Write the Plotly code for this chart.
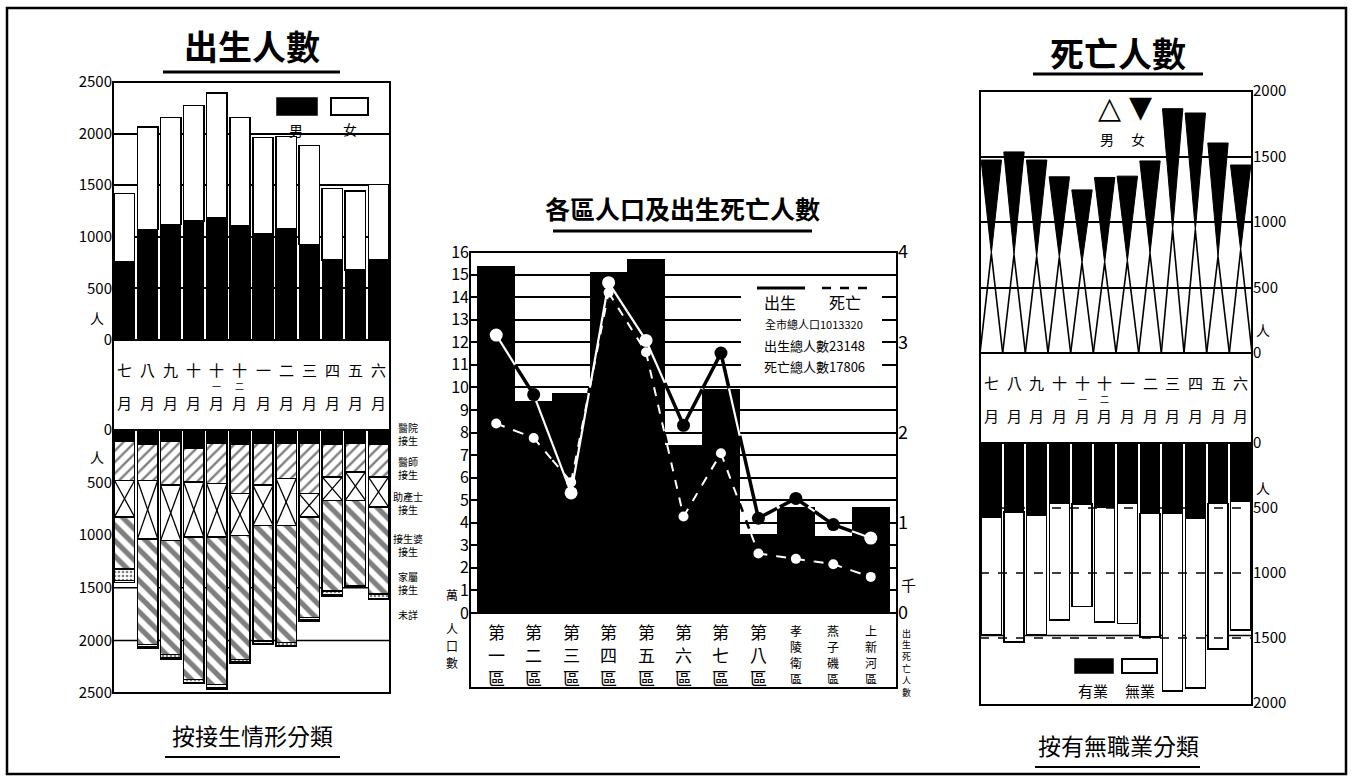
import plotly.graph_objects as go

W, H = 1353, 784
FONT = "Noto Sans CJK TC"

# ---- data ----
months_top = ["七", "八", "九", "十", "十一", "十二", "一", "二", "三", "四", "五", "六"]

# 出生人數 (by sex)
births_male = [758, 1071, 1119, 1152, 1184, 1103, 1032, 1077, 926, 774, 677, 774]
births_female = [661, 994, 1036, 1122, 1210, 1052, 929, 897, 958, 694, 768, 732]

# 按接生情形分類
deliv_hospital = [110, 140, 110, 170, 125, 140, 125, 125, 125, 140, 125, 140]
deliv_doctor = [368, 338, 415, 324, 385, 465, 400, 337, 480, 306, 273, 306]
deliv_midwife = [350, 557, 526, 525, 509, 398, 383, 446, 223, 223, 271, 286]
deliv_oldmidwife = [494, 1003, 1083, 1354, 1401, 1179, 1098, 1114, 955, 860, 812, 829]
deliv_family = [110, 25, 35, 25, 30, 25, 25, 25, 25, 40, 12, 40]
deliv_unknown = [17, 7, 13, 6, 12, 6, 7, 7, 7, 7, 4, 7]
deliv_labels = ["醫院<br>接生", "醫師<br>接生", "助產士<br>接生", "接生婆<br>接生", "家屬<br>接生", "未詳"]

# 各區人口及出生死亡人數
districts = ["第一區", "第二區", "第三區", "第四區", "第五區", "第六區", "第七區", "第八區",
             "孝陵衛區", "燕子磯區", "上新河區"]
district_pop = [15.4, 9.4, 9.75, 15.1, 15.7, 7.45, 9.95, 3.5, 4.7, 3.4, 4.7]        # 萬人
district_births = [3.08, 2.42, 1.33, 3.66, 3.02, 2.08, 2.88, 1.05, 1.27, 0.98, 0.83]  # 千人
district_deaths = [2.10, 1.94, 1.45, 3.55, 2.89, 1.07, 1.77, 0.66, 0.60, 0.54, 0.40]  # 千人
summary_lines = ["全市總人口1013320", "出生總人數23148", "死亡總人數17806"]

# 死亡人數 (by sex)
deaths_male = [760, 750, 735, 730, 690, 690, 700, 760, 940, 940, 735, 785]
deaths_female = [713, 785, 738, 615, 555, 650, 650, 706, 925, 892, 868, 650]

# 按有無職業分類
deaths_employed = [568, 529, 555, 464, 470, 490, 464, 542, 542, 581, 464, 451]
deaths_unemployed = [911, 1002, 924, 898, 788, 885, 924, 950, 1367, 1302, 1119, 989]


def fx(p):
    return p / W


def fy(p):
    return 1 - p / H


idx = list(range(len(months_top)))
didx = list(range(len(districts)))
fig = go.Figure()

# ---------- left top: births by sex ----------
BW = 0.88
fig.add_bar(x=idx, y=births_male, width=BW, xaxis="x", yaxis="y",
            marker=dict(color="black", line=dict(color="black", width=1)))
fig.add_bar(x=idx, y=births_female, width=BW, xaxis="x", yaxis="y",
            marker=dict(color="white", line=dict(color="black", width=1.5)))

# ---------- left bottom: delivery ----------
def pat(shape, size, sol):
    return dict(shape=shape, size=size, solidity=sol, fgcolor="black", bgcolor="white")


seg_styles = [
    (deliv_hospital, dict(color="black", line=dict(color="black", width=1.5))),
    (deliv_doctor, dict(color="white", pattern=pat("/", 8, 0.3), line=dict(color="black", width=1.5))),
    (deliv_midwife, dict(color="white", line=dict(color="black", width=1.5))),
    (deliv_oldmidwife, dict(color="white", pattern=pat("\\", 11, 0.48), line=dict(color="black", width=1.5))),
    (deliv_family, dict(color="white", pattern=pat(".", 4, 0.35), line=dict(color="black", width=1.5))),
    (deliv_unknown, dict(color="white", line=dict(color="black", width=1.5))),
]
for vals, mk in seg_styles:
    fig.add_bar(x=idx, y=vals, width=BW, xaxis="x2", yaxis="y2", marker=mk)

# big X inside the midwife segment
xs, ys = [], []
for i in idx:
    top = deliv_hospital[i] + deliv_doctor[i]
    bot = top + deliv_midwife[i]
    xs += [i - BW / 2, i + BW / 2, None, i - BW / 2, i + BW / 2, None]
    ys += [top, bot, None, bot, top, None]
fig.add_scatter(x=xs, y=ys, mode="lines", line=dict(color="black", width=1.3),
                xaxis="x2", yaxis="y2", hoverinfo="skip")

# ---------- centre: districts ----------
fig.add_bar(x=didx, y=district_pop, width=1.0, xaxis="x3", yaxis="y3",
            marker=dict(color="black", line=dict(width=0)))

ratio = 4 / 16  # right axis units per left axis unit
bar_tops = [p * ratio for p in district_pop]


def split_segments(vals):
    # white where the line runs over a black bar, black elsewhere
    inside_x, inside_y, out_x, out_y = [], [], [], []
    for k in range(len(vals) - 1):
        x0, y0, x1, y1 = k, vals[k], k + 1, vals[k + 1]

        def yat(x):
            return y0 + (y1 - y0) * (x - x0) / (x1 - x0)

        mid = (x0 + x1) / 2
        for a, b, s in ((x0, mid, k), (mid, x1, k + 1)):
            h = bar_tops[s]
            cuts = [a, b]
            ya, yb = yat(a), yat(b)
            if (ya - h) * (yb - h) < 0:
                c = a + (h - ya) / (yb - ya) * (b - a)
                cuts = [a, c, b]
            for p, q in zip(cuts[:-1], cuts[1:]):
                ym = yat((p + q) / 2)
                if ym < h:
                    inside_x += [p, q, None]
                    inside_y += [yat(p), yat(q), None]
                else:
                    out_x += [p, q, None]
                    out_y += [yat(p), yat(q), None]
    return inside_x, inside_y, out_x, out_y


for vals, dash, wb, ww, msize in ((district_births, "solid", 3.5, 2.2, 13),
                                  (district_deaths, "dash", 2.6, 2.0, 10)):
    ix, iy, ox, oy = split_segments(vals)
    fig.add_scatter(x=ox, y=oy, mode="lines", line=dict(color="black", width=wb, dash=dash),
                    xaxis="x3", yaxis="y4", hoverinfo="skip")
    fig.add_scatter(x=ix, y=iy, mode="lines", line=dict(color="white", width=ww, dash=dash),
                    xaxis="x3", yaxis="y4", hoverinfo="skip")
    cols = ["white" if v < bar_tops[i] else "black" for i, v in enumerate(vals)]
    fig.add_scatter(x=didx, y=vals, mode="markers", xaxis="x3", yaxis="y4",
                    marker=dict(size=msize, color=cols, line=dict(width=0)))

# ---------- right top: deaths by sex (triangles) ----------
mx, my, fxs, fys = [], [], [], []
for i in idx:
    m = deaths_male[i]
    t = m + deaths_female[i]
    mx += [i - 0.5, i, i + 0.5, None]
    my += [0, m, 0, None]
    fxs += [i - 0.45, i + 0.45, i, i - 0.45, None]
    fys += [t, t, m, t, None]
fig.add_scatter(x=fxs, y=fys, mode="lines", fill="toself", fillcolor="black",
                line=dict(color="black", width=1), xaxis="x5", yaxis="y5", hoverinfo="skip")
fig.add_scatter(x=mx, y=my, mode="lines", line=dict(color="black", width=1.6),
                xaxis="x5", yaxis="y5", hoverinfo="skip")

# ---------- right bottom: occupation ----------
fig.add_bar(x=idx, y=deaths_employed, width=BW, xaxis="x6", yaxis="y6",
            marker=dict(color="black", line=dict(color="black", width=1)))
fig.add_bar(x=idx, y=deaths_unemployed, width=BW, xaxis="x6", yaxis="y6",
            marker=dict(color="white", line=dict(color="black", width=1.6)))

# ---------- axes ----------
tick_font = dict(family=FONT, size=15, color="black")
hidden_x = dict(visible=False, range=[-0.5, 11.5], fixedrange=True)
grid = dict(showgrid=True, gridcolor="black", gridwidth=1.5, zeroline=False, ticks="",
            tickfont=tick_font, showline=False)

fig.update_layout(
    width=W, height=H, margin=dict(l=0, r=0, t=0, b=0, pad=0, autoexpand=False),
    paper_bgcolor="white", plot_bgcolor="white", showlegend=False, barmode="stack",
    font=dict(family=FONT, color="black"),
    xaxis=dict(hidden_x, domain=[fx(113), fx(390)], anchor="y"),
    yaxis=dict(grid, domain=[fy(340), fy(82)], range=[0, 2500], anchor="x",
               tickvals=[0, 500, 1000, 1500, 2000, 2500]),
    xaxis2=dict(hidden_x, domain=[fx(113), fx(390)], anchor="y2"),
    yaxis2=dict(grid, showgrid=False, domain=[fy(693), fy(430)], range=[2500, 0], anchor="x2",
                tickvals=[0, 500, 1000, 1500, 2000, 2500]),
    xaxis3=dict(visible=False, domain=[fx(470), fx(897)], range=[-0.7, 10.7], anchor="y3"),
    yaxis3=dict(grid, domain=[fy(613), fy(252)], range=[0, 16], anchor="x3",
                tickvals=list(range(17)), ticks="inside", ticklen=7, tickwidth=1.5,
                tickcolor="black", tickfont=dict(family=FONT, size=16, color="black")),
    yaxis4=dict(domain=[fy(613), fy(252)], range=[0, 4], overlaying="y3", side="right",
                anchor="x3", showgrid=False, zeroline=False, tickvals=[0, 1, 2, 3, 4],
                ticks="inside", ticklen=10, tickwidth=1.5, tickcolor="black",
                tickfont=dict(family=FONT, size=18, color="black"),
                minor=dict(dtick=0.25, ticks="inside", ticklen=9, tickwidth=1.5,
                           tickcolor="black", showgrid=False)),
    xaxis5=dict(hidden_x, domain=[fx(980), fx(1252)], anchor="y5"),
    yaxis5=dict(grid, domain=[fy(353), fy(91)], range=[0, 2000], side="right", anchor="x5",
                tickvals=[0, 500, 1000, 1500, 2000]),
    xaxis6=dict(hidden_x, domain=[fx(980), fx(1252)], anchor="y6"),
    yaxis6=dict(grid, showgrid=False, domain=[fy(703), fy(443)], range=[2000, 0], side="right",
                anchor="x6", tickvals=[0, 500, 1000, 1500, 2000]),
)

# ---------- shapes ----------
def box(x0, y0, x1, y1, fill=None, width=2, layer="above"):
    fig.add_shape(type="rect", xref="paper", yref="paper", x0=fx(x0), x1=fx(x1),
                  y0=fy(y1), y1=fy(y0), line=dict(color="black", width=width),
                  fillcolor=fill, layer=layer)


def hline(x0, x1, y, width=2, dash="solid", layer="above"):
    fig.add_shape(type="line", xref="paper", yref="paper", x0=fx(x0), x1=fx(x1),
                  y0=fy(y), y1=fy(y), line=dict(color="black", width=width, dash=dash),
                  layer=layer)


box(7, 8, 1346, 774, width=2.5)
box(113, 82, 390, 693)
hline(113, 390, 340)
hline(113, 390, 430)
box(470, 252, 897, 688)
hline(470, 897, 613)
box(980, 91, 1252, 705)
hline(980, 1252, 353)
hline(980, 1252, 443)

for v in (1500, 2000):
    fig.add_shape(type="line", xref="x2 domain", yref="y2", x0=0, x1=1, y0=v, y1=v,
                  line=dict(color="black", width=1.5), layer="below")
fig.add_shape(type="line", xref="x6 domain", yref="y6", x0=0, x1=1, y0=1480, y1=1480,
              line=dict(color="black", width=1.5), layer="below")
for v in (500, 1000, 1500):
    fig.add_shape(type="line", xref="x6 domain", yref="y6", x0=0, x1=1, y0=v, y1=v,
                  line=dict(color="black", width=1.3, dash="dash"), layer="above")

# underlines of titles
hline(163, 340, 72, width=3)
hline(553, 812, 231, width=3)
hline(1033, 1203, 74, width=3)
hline(165, 340, 757, width=2)
hline(1035, 1200, 767, width=2)

# legends (shapes)
box(277, 98, 317, 115, fill="black", width=1.5)
box(331, 98, 368, 115, fill="white", width=2)
box(1075, 659, 1113, 673, fill="black", width=1.5)
box(1122, 659, 1157, 673, fill="white", width=2)
box(741, 280, 882, 378, fill="white", width=0)
hline(757, 805, 288, width=3)
hline(822, 868, 288, width=2.5, dash="dash")


# ---------- text ----------
def text(px, py, s, size, bold=False, family=FONT, xanchor="center", xref="paper", xv=None):
    fig.add_annotation(x=fx(px) if xv is None else xv, y=fy(py), xref=xref, yref="paper",
                       text=f"<b>{s}</b>" if bold else s, showarrow=False, borderpad=0,
                       font=dict(family=family, size=size, color="black"),
                       xanchor=xanchor, yanchor="middle")


def vtext(px, y0, s, size, step, xref="paper", xv=None):
    # vertical writing: one character per line
    for k, ch in enumerate(s):
        text(px, y0 + k * step, ch, size, xref=xref, xv=xv)


text(252, 46, "出生人數", 34, bold=True)
text(682, 208, "各區人口及出生死亡人數", 25, bold=True)
text(1118, 52, "死亡人數", 34, bold=True)
text(252, 735, "按接生情形分類", 23)
text(1118, 745, "按有無職業分類", 23)

text(296, 130, "男", 14)
text(350, 129, "女", 14)
text(1109, 108, "△", 30, family="DejaVu Sans")
text(1140, 106, "▼", 30, family="DejaVu Sans")
text(1107, 139, "男", 14)
text(1138, 139, "女", 14)
text(1093, 690, "有業", 15)
text(1140, 690, "無業", 15)

text(780, 302, "出生", 16)
text(845, 302, "死亡", 16)
for k, s in enumerate(summary_lines):
    text(814, 324 + k * 21, s, 11 if k == 0 else 13)

for k, s in enumerate(deliv_labels):
    text(408, [434, 468, 503, 545, 583, 614][k], s, 10)

# unit markers
text(97, 318, "人", 14)
text(97, 457, "人", 14)
text(1263, 330, "人", 14)
text(1263, 488, "人", 14)
text(452, 594, "萬", 12)
text(908, 584, "千", 15)
vtext(452, 628, "人口數", 12, 17)
vtext(906, 633, "出生死亡人數", 9, 11.8)

# month labels
for xref, r1, rs, r2 in (("x", 370, 386, 402), ("x5", 383, 399, 415)):
    for i, m in enumerate(months_top):
        text(0, r1, m[0], 15, xref=xref, xv=i)
        if len(m) > 1:
            text(0, rs, m[1], 9, xref=xref, xv=i)
        text(0, r2, "月", 15, xref=xref, xv=i)

# district labels
for i, d in enumerate(districts):
    if len(d) == 3:
        vtext(0, 631, d, 17, 23, xref="x3", xv=i)
    else:
        vtext(0, 630, d, 12, 16, xref="x3", xv=i)

fig.write_html("out.html", config={"displayModeBar": False},
               post_script="document.body.style.margin='0';")
